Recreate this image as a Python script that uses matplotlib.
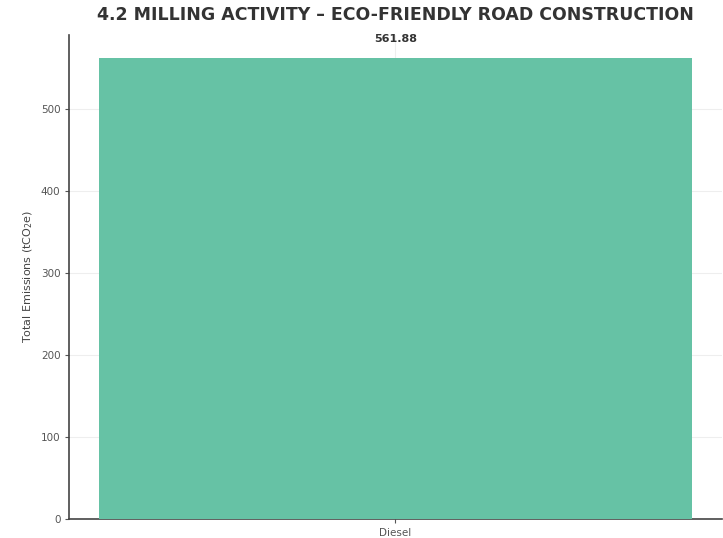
import matplotlib.pyplot as plt

# Milling emissions by fuel type
fuels = ["Diesel"]
emissions = [561.88]

plt.rcParams["font.family"] = "DejaVu Sans"

fig = plt.figure(figsize=(7.23, 5.38), dpi=100)
ax = fig.add_axes([0.096, 0.036, 0.902, 0.899])

bars = ax.bar(fuels, emissions, width=0.8, color="#66c2a5", zorder=3)
for bar, val in zip(bars, emissions):
    ax.annotate(f"{val:.2f}", (bar.get_x() + bar.get_width() / 2, val),
                xytext=(0, 10), textcoords="offset points",
                ha="center", va="bottom", fontsize=8, fontweight="bold", color="#333333")

ax.set_ylim(0, max(emissions) * 1.05)
ax.set_ylabel("Total Emissions (tCO$_2$e)", fontsize=8, color="#444444")
ax.set_title("4.2 MILLING ACTIVITY \u2013 ECO-FRIENDLY ROAD CONSTRUCTION",
             fontsize=12.5, fontweight="bold", color="#333333", pad=11)

ax.grid(color="#eeeeee", linewidth=0.8, zorder=0)
for side in ["top", "right"]:
    ax.spines[side].set_visible(False)
for side in ["left", "bottom"]:
    ax.spines[side].set_color("#444444")
    ax.spines[side].set_linewidth(1.2)
ax.tick_params(labelsize=7.5, colors="#555555", length=3)

fig.savefig("out.png", dpi=100)
